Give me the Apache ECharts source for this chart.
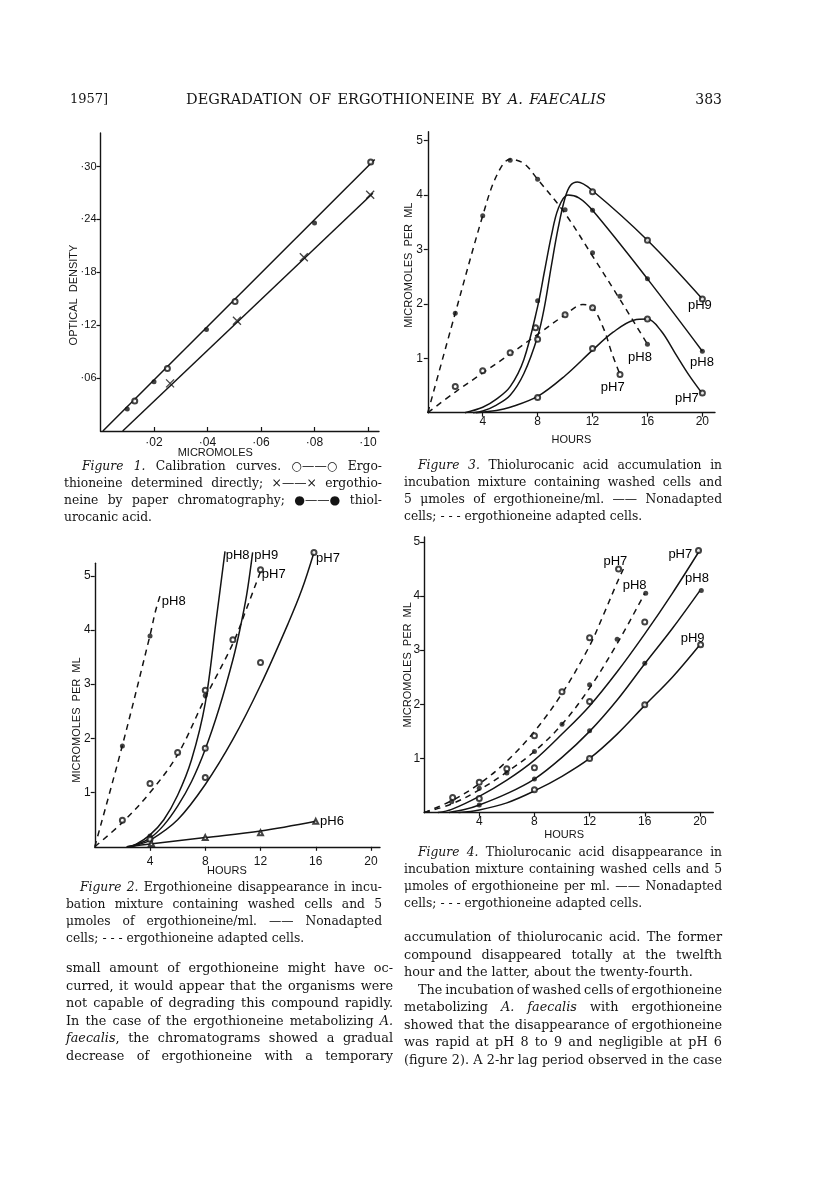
<!DOCTYPE html>
<html><head><meta charset="utf-8">
<script src="https://cdn.jsdelivr.net/npm/echarts@6/dist/echarts.min.js"></script>
<style>html,body{margin:0;padding:0;background:#fff}#c{width:816px;height:1190px}</style>
</head><body><div id="c"></div>
<script>
// ===== Figure 1: calibration curves =====
const fig1DirectX = [0.0128, 0.025, 0.0503, 0.101];
const fig1DirectY = [0.034, 0.071, 0.147, 0.305];
const fig1ChromX = [0.026, 0.051, 0.076, 0.1008];
const fig1ChromY = [0.054, 0.125, 0.197, 0.268];
const fig1ThiolX = [0.010, 0.020, 0.0396, 0.080];
const fig1ThiolY = [0.025, 0.056, 0.115, 0.236];
const fig1UpperLineX = [0.0009, 0.1025];
const fig1UpperLineY = [0, 0.308];
const fig1LowerLineX = [0.0083, 0.1018];
const fig1LowerLineY = [0, 0.2696];
const fig1XTicks = [0.02, 0.04, 0.06, 0.08, 0.10];
const fig1YTicks = [0.06, 0.12, 0.18, 0.24, 0.30];

// ===== Figure 3: thiolurocanic acid accumulation =====
const fig3DashPH8Curve = [[0,0],[2,1.83],[4,3.62],[5,4.35],[6,4.66],[7,4.58],[8,4.29],[10,3.66],[12,2.88],[14,2.08],[16,1.26]];
const fig3DashPH8Dots = [[2,1.83],[4,3.62],[6,4.64],[8,4.29],[10,3.73],[12,2.94],[14,2.14],[16,1.26]];
const fig3SolidPH8Curve = [[2.7,0],[4,0.1],[5,0.25],[6,0.48],[7,0.98],[8,1.95],[8.5,2.6],[9,3.25],[9.5,3.75],[10.2,4.0],[11,3.95],[12,3.72],[16,2.46],[20,1.13]];
const fig3SolidPH8Dots = [[8,2.06],[12,3.72],[16,2.46],[20,1.13]];
const fig3SolidPH9Curve = [[3.3,0],[4,0.03],[5,0.14],[6,0.32],[7,0.72],[8,1.4],[8.5,1.95],[9,2.7],[9.5,3.4],[10,3.95],[10.4,4.18],[10.9,4.24],[12,4.08],[16,3.17],[20,2.09]];
const fig3SolidPH9Dots = [[8,1.35],[12,4.06],[16,3.17],[20,2.09]];
const fig3DashPH7Curve = [[0,0],[2,0.38],[4,0.73],[6,1.08],[8,1.44],[10,1.8],[11.3,1.99],[12,1.93],[12.8,1.55],[13.4,1.1],[14,0.7]];
const fig3DashPH7Dots = [[2,0.48],[4,0.77],[6,1.1],[7.85,1.56],[10,1.8],[12,1.93],[14,0.7]];
const fig3SolidPH7Curve = [[3.5,0],[5,0.04],[6,0.1],[8,0.3],[10,0.68],[12,1.15],[13.5,1.48],[15,1.7],[16,1.72],[17,1.5],[18,1.1],[19,0.7],[20,0.35]];
const fig3SolidPH7Dots = [[8,0.28],[12,1.18],[16,1.72],[20,0.36]];
const fig3Labels = [[18.95,1.98,'pH9'],[19.1,0.93,'pH8'],[18.0,0.27,'pH7'],[14.58,1.02,'pH8'],[12.6,0.47,'pH7']];

// ===== Figure 2: ergothioneine disappearance =====
const fig2DashPH8Curve = [[0,0],[2,1.87],[4,3.9],[4.4,4.35],[4.75,4.65]];
const fig2DashPH8Dots = [[2,1.86],[4,3.89]];
const fig2DashPH7Curve = [[0,0],[2,0.45],[4,1.0],[6,1.7],[8,2.75],[10,3.75],[11,4.4],[12,5.08]];
const fig2DashPH7Dots = [[2,0.49],[4,1.17],[6,1.74],[8,2.89],[10,3.82],[12,5.11]];
const fig2SolidPH8Curve = [[2.3,0],[3,0.05],[4,0.22],[5,0.5],[6,0.95],[7,1.6],[8,2.65],[8.8,4.2],[9.43,5.45]];
const fig2SolidPH8Dots = [[4,0.2],[8,2.79]];
const fig2SolidPH9Curve = [[2.4,0],[3,0.04],[4,0.16],[5,0.4],[6,0.75],[7,1.2],[8,1.8],[9,2.55],[10,3.45],[10.5,4.0],[11,4.65],[11.43,5.43]];
const fig2SolidPH9Dots = [[4,0.14],[8,1.82]];
const fig2SolidPH7Curve = [[2.6,0],[3,0.03],[4,0.12],[6,0.5],[8,1.15],[10,1.98],[12,2.98],[14,4.12],[15,4.75],[15.87,5.43]];
const fig2SolidPH7Dots = [[8,1.28],[12,3.4],[15.87,5.43]];
const fig2SolidPH6Curve = [[2.5,0],[4,0.05],[8,0.17],[12,0.29],[16,0.47]];
const fig2SolidPH6Dots = [[4.1,0.06],[8,0.17],[12,0.26],[16,0.47]];
const fig2Labels = [[4.85,4.52,'pH8'],[9.48,5.38,'pH8'],[11.55,5.38,'pH9'],[16.02,5.32,'pH7'],[12.09,5.02,'pH7'],[16.31,0.47,'pH6']];

// ===== Figure 4: thiolurocanic acid disappearance =====
const fig4DashPH7Curve = [[0,0],[2,0.22],[4,0.53],[6,0.95],[8,1.5],[10,2.2],[12,3.08],[13,3.65],[14,4.25],[14.45,4.5]];
const fig4DashPH7Dots = [[2.07,0.28],[4,0.56],[6,0.81],[8,1.42],[10,2.23],[12,3.23],[14.1,4.5]];
const fig4DashPH8Curve = [[0,0],[2,0.16],[4,0.42],[6,0.75],[8,1.13],[10,1.63],[12,2.3],[14,3.12],[16,4.05]];
const fig4DashPH8Dots = [[2,0.2],[4,0.45],[6,0.73],[8,1.13],[10,1.63],[12,2.36],[14,3.2],[16.07,4.05]];
const fig4SolidPH7Curve = [[1,0],[2,0.06],[4,0.3],[6,0.6],[8,0.97],[10,1.45],[12,1.97],[14,2.6],[16,3.3],[18,4.05],[20,4.85]];
const fig4SolidPH7Dots = [[4,0.26],[8,0.83],[12,2.05],[16,3.52],[19.9,4.84]];
const fig4SolidPH8Curve = [[1.8,0],[3,0.06],[4,0.14],[6,0.35],[8,0.62],[10,1.02],[12,1.5],[14,2.08],[16,2.75],[18,3.4],[20,4.1]];
const fig4SolidPH8Dots = [[4,0.14],[8,0.62],[12,1.51],[16,2.76],[20.1,4.1]];
const fig4SolidPH9Curve = [[2.5,0],[4,0.05],[6,0.18],[8,0.4],[10,0.67],[12,1.0],[14,1.45],[16,1.98],[18,2.5],[20,3.1]];
const fig4SolidPH9Dots = [[8,0.42],[12,1.0],[16,1.99],[20.05,3.1]];
const fig4Labels = [[13.0,4.64,'pH7'],[14.4,4.2,'pH8'],[17.71,4.77,'pH7'],[18.92,4.33,'pH8'],[18.6,3.22,'pH9']];

const hourTicks = [4, 8, 12, 16, 20];
const unitTicks = [1, 2, 3, 4, 5];

// ===== Page text =====
const headerLeft = '1957]';
const headerTitle = 'DEGRADATION OF ERGOTHIONEINE BY _A._ _FAECALIS_';
const headerRight = '383';
const fig1Caption = ['_Figure_ _1._ Calibration curves. \u25CB\u2014\u2014\u25CB Ergo-',
  'thioneine determined directly; \u00D7\u2014\u2014\u00D7 ergothio-',
  'neine by paper chromatography; \u25CF\u2014\u2014\u25CF thiol-',
  'urocanic acid.'];
const fig3Caption = ['_Figure_ _3._ Thiolurocanic acid accumulation in',
  'incubation mixture containing washed cells and',
  '5 \u03BCmoles of ergothioneine/ml. \u2014\u2014 Nonadapted',
  'cells; -\u00A0-\u00A0- ergothioneine adapted cells.'];
const fig2Caption = ['_Figure_ _2._ Ergothioneine disappearance in incu-',
  'bation mixture containing washed cells and 5',
  '\u03BCmoles of ergothioneine/ml. \u2014\u2014 Nonadapted',
  'cells; -\u00A0-\u00A0- ergothioneine adapted cells.'];
const fig4Caption = ['_Figure_ _4._ Thiolurocanic acid disappearance in',
  'incubation mixture containing washed cells and 5',
  '\u03BCmoles of ergothioneine per ml. \u2014\u2014 Nonadapted',
  'cells; -\u00A0-\u00A0- ergothioneine adapted cells.'];
const bodyLeft = ['small amount of ergothioneine might have oc-',
  'curred, it would appear that the organisms were',
  'not capable of degrading this compound rapidly.',
  'In the case of the ergothioneine metabolizing _A._',
  '_faecalis_, the chromatograms showed a gradual',
  'decrease of ergothioneine with a temporary'];
const bodyRight = ['accumulation of thiolurocanic acid. The former',
  'compound disappeared totally at the twelfth',
  'hour and the latter, about the twenty-fourth.',
  'The incubation of washed cells of ergothioneine',
  'metabolizing _A._ _faecalis_ with ergothioneine',
  'showed that the disappearance of ergothioneine',
  'was rapid at pH 8 to 9 and negligible at pH 6',
  '(figure 2). A 2-hr lag period observed in the case'];

// ===== Rendering =====
const INK = '#141414';
const SANS = '"Liberation Sans", Arial, sans-serif';
const SERIF = '"DejaVu Serif", serif';
const zip = (xs, ys) => xs.map((x, i) => [x, ys[i]]);

const mctx = document.createElement('canvas').getContext('2d');
function tw(t, font) { mctx.font = font; return mctx.measureText(t).width; }
function fnt(size, it) { return (it ? 'italic ' : '') + size + 'px ' + SERIF; }
function pieces(tok) {
  if (tok[0] === '_') {
    const k = tok.lastIndexOf('_');
    if (k > 0) {
      const out = [{ t: tok.slice(1, k), it: true }];
      if (k < tok.length - 1) out.push({ t: tok.slice(k + 1), it: false });
      return out;
    }
  }
  return [{ t: tok, it: false }];
}
function textLine(out, str, x0, x1, y, size, justify, align) {
  const toks = str.split(' ').map(pieces);
  const widths = toks.map(ps => ps.reduce((s, p) => s + tw(p.t, fnt(size, p.it)), 0));
  const sum = widths.reduce((a, b) => a + b, 0);
  const sp = tw(' ', fnt(size, false));
  const n = toks.length, W = x1 - x0;
  let gap = sp, s = 1;
  if (justify && n > 1) {
    gap = (W - sum) / (n - 1);
    const mg = sp * 0.7;
    if (gap < mg) { gap = mg; s = (W - (n - 1) * mg) / sum; }
  }
  const total = sum * s + gap * (n - 1);
  let x = align === 'right' ? x1 - total : x0;
  toks.forEach(ps => {
    ps.forEach(p => {
      out.push({ type: 'text', x: x, y: y, scaleX: s, silent: true,
        style: { text: p.t, font: fnt(size, p.it), fill: INK, textAlign: 'left', textVerticalAlign: 'middle' } });
      x += tw(p.t, fnt(size, p.it)) * s;
    });
    x += gap;
  });
}
function block(out, lines, x0, x1, indentX, y0, dy, size, lastPlain, extra) {
  lines.forEach((ln, i) => {
    const plain = (i === lines.length - 1 && lastPlain) || (extra && extra.plain && extra.plain.includes(i));
    const ind = (i === 0 && indentX) || (extra && extra.indent && extra.indent[i]) || x0;
    textLine(out, ln, ind, x1, y0 + i * dy, size, !plain);
  });
}

const g = [];
textLine(g, headerLeft, 70, 120, 100, 13, false);
textLine(g, headerTitle, 186, 606, 100, 14.5, true);
textLine(g, headerRight, 650, 722, 100, 14, false, 'right');
block(g, fig1Caption, 64, 382, 82, 467, 17, 12.3, true);
block(g, fig3Caption, 404, 722, 418, 466, 17, 12.3, true);
block(g, fig2Caption, 66, 382, 80, 888, 17, 12.3, true);
block(g, fig4Caption, 404, 722, 418, 853, 17, 12.3, true);
block(g, bodyLeft, 66, 393, 0, 969, 17.5, 12.8, false);
block(g, bodyRight, 404, 722, 0, 938, 17.5, 12.8, false, { plain: [2], indent: { 3: 418 } });

const axLine = { lineStyle: { color: INK, width: 1.4 } };
function axis(grid, max, ticks, fmt, o) {
  return { type: 'value', gridIndex: grid, min: 0, max: max, axisLine: Object.assign({ onZero: false }, axLine),
    splitLine: { show: false },
    axisTick: { customValues: ticks, inside: !!o.inside, length: 4, lineStyle: { color: INK, width: 1.2 } },
    axisLabel: { customValues: ticks, formatter: fmt, margin: o.margin, color: INK, fontSize: o.fs || 12, fontFamily: SANS },
    name: o.name, nameLocation: 'middle', nameGap: o.gap, nameMoveOverlap: false,
    nameTextStyle: { color: INK, fontSize: 11, fontFamily: SANS, padding: o.pad || 0 } };
}
const dotFmt = v => '\u00B7' + String(Math.round(v * 100)).padStart(2, '0');
const intFmt = v => String(Math.round(v));

function curve(gi, data, dashed) {
  return { type: 'line', xAxisIndex: gi, yAxisIndex: gi, data: data, smooth: 0.35, showSymbol: false,
    clip: false, silent: true, z: 2,
    lineStyle: { color: INK, width: 1.5, type: dashed ? [6, 5] : 'solid' } };
}
const CROSS = 'path://M0,0L10,10M10,0L0,10';
function dots(gi, data, kind) {
  const m = {
    open: { symbol: 'emptyCircle', size: 5, style: { color: INK, borderWidth: 1 } },
    filled: { symbol: 'circle', size: 5, style: { color: INK } },
    cross: { symbol: CROSS, size: 8, style: { color: 'none', borderColor: INK, borderWidth: 1.3 } },
    tri: { symbol: 'emptyTriangle', size: 5, style: { color: INK, borderWidth: 1 } }
  }[kind];
  return { type: 'scatter', xAxisIndex: gi, yAxisIndex: gi, data: data, symbol: m.symbol, symbolSize: m.size,
    itemStyle: m.style, clip: false, silent: true, z: 3 };
}
function labels(gi, data) {
  return { type: 'scatter', xAxisIndex: gi, yAxisIndex: gi, data: data, symbolSize: 0.1, silent: true, clip: false,
    itemStyle: { color: INK, opacity: 1 },
    label: { show: true, position: 'right', distance: 0, formatter: p => p.data[2], color: '#000', opacity: 1,
      textBorderWidth: 0, fontSize: 13, fontFamily: SANS } };
}

const option = {
  animation: false,
  backgroundColor: '#ffffff',
  grid: [
    { left: 100.5, top: 133, width: 278.5, height: 298 },
    { left: 427.8, top: 131.7, width: 287.2, height: 281 },
    { left: 94.75, top: 563.3, width: 285.25, height: 283.5 },
    { left: 424.1, top: 537, width: 289.2, height: 275.6 }
  ],
  xAxis: [
    axis(0, 0.1041, fig1XTicks, dotFmt, { inside: true, margin: 6, name: 'MICROMOLES', gap: 16, pad: [0, 49, 0, 0] }),
    axis(1, 20.92, hourTicks, intFmt, { margin: 3, name: 'HOURS', gap: 22 }),
    axis(2, 20.65, hourTicks, intFmt, { margin: 9, name: 'HOURS', gap: 19, pad: [0, 21, 0, 0] }),
    axis(3, 20.97, hourTicks, intFmt, { margin: 3, name: 'HOURS', gap: 17, pad: [0, 9, 0, 0] })
  ],
  yAxis: [
    axis(0, 0.338, fig1YTicks, dotFmt, { margin: 4, fs: 11, name: 'OPTICAL  DENSITY', gap: 21, pad: [0, 26, 0, 0] }),
    axis(1, 5.165, unitTicks, intFmt, { margin: 5, name: 'MICROMOLES  PER  ML', gap: 13, pad: [0, 0, 0, 14] }),
    axis(2, 5.23, unitTicks, intFmt, { margin: 4, name: 'MICROMOLES  PER  ML', gap: 12, pad: [0, 30, 0, 0] }),
    axis(3, 5.09, unitTicks, intFmt, { margin: 4, name: 'MICROMOLES  PER  ML', gap: 11, pad: [0, 0, 0, 20] })
  ],
  series: [
    curve(0, zip(fig1UpperLineX, fig1UpperLineY), false),
    curve(0, zip(fig1LowerLineX, fig1LowerLineY), false),
    dots(0, zip(fig1DirectX, fig1DirectY), 'open'),
    dots(0, zip(fig1ChromX, fig1ChromY), 'cross'),
    dots(0, zip(fig1ThiolX, fig1ThiolY), 'filled'),

    curve(1, fig3DashPH8Curve, true), dots(1, fig3DashPH8Dots, 'filled'),
    curve(1, fig3SolidPH8Curve, false), dots(1, fig3SolidPH8Dots, 'filled'),
    curve(1, fig3SolidPH9Curve, false), dots(1, fig3SolidPH9Dots, 'open'),
    curve(1, fig3DashPH7Curve, true), dots(1, fig3DashPH7Dots, 'open'),
    curve(1, fig3SolidPH7Curve, false), dots(1, fig3SolidPH7Dots, 'open'),
    labels(1, fig3Labels),

    curve(2, fig2DashPH8Curve, true), dots(2, fig2DashPH8Dots, 'filled'),
    curve(2, fig2DashPH7Curve, true), dots(2, fig2DashPH7Dots, 'open'),
    curve(2, fig2SolidPH8Curve, false), dots(2, fig2SolidPH8Dots, 'filled'),
    curve(2, fig2SolidPH9Curve, false), dots(2, fig2SolidPH9Dots, 'open'),
    curve(2, fig2SolidPH7Curve, false), dots(2, fig2SolidPH7Dots, 'open'),
    curve(2, fig2SolidPH6Curve, false), dots(2, fig2SolidPH6Dots, 'tri'),
    labels(2, fig2Labels),

    curve(3, fig4DashPH7Curve, true), dots(3, fig4DashPH7Dots, 'open'),
    curve(3, fig4DashPH8Curve, true), dots(3, fig4DashPH8Dots, 'filled'),
    curve(3, fig4SolidPH7Curve, false), dots(3, fig4SolidPH7Dots, 'open'),
    curve(3, fig4SolidPH8Curve, false), dots(3, fig4SolidPH8Dots, 'filled'),
    curve(3, fig4SolidPH9Curve, false), dots(3, fig4SolidPH9Dots, 'open'),
    labels(3, fig4Labels)
  ],
  graphic: { elements: g }
};

const chart = echarts.init(document.getElementById('c'), null, { renderer: 'canvas' });
chart.setOption(option);
</script>
</body></html>
